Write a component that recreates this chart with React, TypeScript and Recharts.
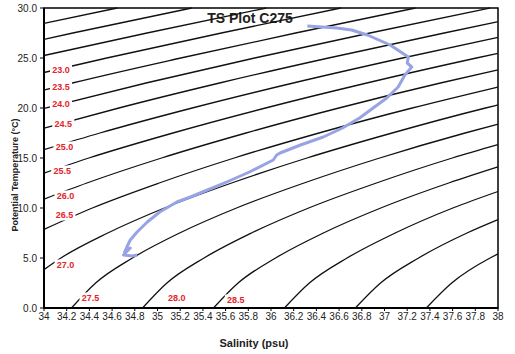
import React from 'react';
import { ScatterChart, Scatter, XAxis, YAxis, ReferenceArea, Label } from 'recharts';

// axis ticks
const xTicks = [34, 34.2, 34.4, 34.6, 34.8, 35, 35.2, 35.4, 35.6, 35.8, 36, 36.2, 36.4, 36.6, 36.8, 37, 37.2, 37.4, 37.6, 37.8, 38];
const yTicks = [0, 5, 10, 15, 20, 25, 30];

// isopycnals (sigma-theta) as [salinity, temperature] pairs
const sig215 = [[34, 28.46], [34.645, 30]];
const sig220 = [[34, 26.87], [34.254, 27.5], [35.302, 30]];
const sig225 = [[34, 25.25], [34.908, 27.5], [35.959, 30]];
const sig230 = [[34, 23.55], [34.553, 25], [35.563, 27.5], [36.616, 30]];
const sig235 = [[34, 21.79], [34.25, 22.5], [35.205, 25], [36.217, 27.5], [37.273, 30]];
const sig240 = [[34, 19.96], [34.899, 22.5], [35.856, 25], [36.872, 27.5], [37.93, 30]];
const sig245 = [[34, 17.97], [34.66, 20], [35.547, 22.5], [36.507, 25], [37.526, 27.5], [38, 28.62]];
const sig250 = [[34, 15.83], [34.493, 17.5], [35.306, 20], [36.196, 22.5], [37.159, 25], [38, 27.06]];
const sig255 = [[34, 13.49], [34.395, 15], [35.136, 17.5], [35.952, 20], [36.844, 22.5], [37.81, 25], [38, 25.47]];
const sig260 = [[34, 10.89], [34.378, 12.5], [35.036, 15], [35.78, 17.5], [36.598, 20], [37.493, 22.5], [38, 23.81]];
const sig265 = [[34, 7.86], [34.426, 10], [35.015, 12.5], [35.676, 15], [36.423, 17.5], [37.244, 20], [38, 22.1]];
const sig270 = [[34, 3.84], [34.149, 5], [34.562, 7.5], [35.061, 10], [35.653, 12.5], [36.317, 15], [37.067, 17.5], [37.89, 20], [38, 20.31]];
const sig275 = [[34.242, 0], [34.455, 2.5], [34.779, 5], [35.195, 7.5], [35.696, 10], [36.291, 12.5], [36.958, 15], [37.71, 17.5], [38, 18.38]];
const sig280 = [[34.868, 0], [35.083, 2.5], [35.41, 5], [35.828, 7.5], [36.332, 10], [36.929, 12.5], [37.598, 15], [38, 16.33]];
const sig285 = [[35.493, 0], [35.71, 2.5], [36.04, 5], [36.461, 7.5], [36.967, 10], [37.566, 12.5], [38, 14.11]];
const sig290 = [[36.118, 0], [36.338, 2.5], [36.67, 5], [37.094, 7.5], [37.602, 10], [38, 11.65]];
const sig295 = [[36.743, 0], [36.965, 2.5], [37.3, 5], [37.727, 7.5], [38, 8.84]];
const sig300 = [[37.368, 0], [37.592, 2.5], [37.93, 5], [38, 5.41]];

const isopycnals = [sig215, sig220, sig225, sig230, sig235, sig240, sig245, sig250, sig255,
  sig260, sig265, sig270, sig275, sig280, sig285, sig290, sig295, sig300];

// contour labels (value, salinity, temperature)
const labelText = ['23.0', '23.5', '24.0', '24.5', '25.0', '25.5', '26.0', '26.5', '27.0', '27.5', '28.0', '28.5'];
const labelS = [34.15, 34.15, 34.15, 34.17, 34.18, 34.16, 34.19, 34.18, 34.19, 34.41, 35.17, 35.69];
const labelT = [23.8, 22.1, 20.4, 18.4, 16.1, 13.7, 11.2, 9.3, 4.3, 1.0, 1.0, 0.8];

// station C275 profile, surface to bottom
const profile = [
  [36.32, 28.2], [36.58, 28.0], [36.71, 27.8], [36.85, 27.3], [37.05, 26.3], [37.21, 25.1],
  [37.2, 24.5], [37.24, 24.1], [37.18, 23.3], [37.12, 22.1], [37.02, 21.0], [36.9, 20.0],
  [36.78, 19.0], [36.63, 18.0], [36.46, 17.1], [36.26, 16.3], [36.08, 15.5], [36.05, 15.3],
  [36.02, 14.8], [35.81, 13.6], [35.61, 12.6], [35.44, 11.8], [35.29, 11.1], [35.17, 10.6],
  [35.02, 9.6], [34.91, 8.6], [34.82, 7.6], [34.76, 6.8], [34.73, 6.1], [34.71, 5.6],
  [34.76, 6.0], [34.7, 5.3], [34.78, 5.2], [34.82, 5.3]
];

const toPts = (arr: number[][]) => arr.map(([s, t]) => ({ s, t }));
const labelData = labelText.map((label, i) => ({ label, s: labelS[i], t: labelT[i] }));

const NoDot = () => <g />;

const IsoLabel = (props: any) => {
  const { cx, cy, payload } = props;
  return (
    <g>
      <rect x={cx - 11} y={cy - 5.5} width={22} height={11} fill="#fff" />
      <text x={cx} y={cy} textAnchor="middle" dominantBaseline="central" fontSize={9}
        fontWeight="bold" fill="#e3242b">{payload.label}</text>
    </g>
  );
};

const XTitle = (props: any) => {
  const { viewBox } = props;
  return (
    <text x={viewBox.x + viewBox.width / 2 - 17} y={343} textAnchor="middle" dominantBaseline="central"
      fontSize={11} fontWeight="bold" fill="#222">Salinity (psu)</text>
  );
};

const YTitle = (props: any) => {
  const { viewBox } = props;
  const x = viewBox.x + 15;
  const y = viewBox.y + viewBox.height / 2 + 17;
  return (
    <text x={x} y={y} transform={`rotate(-90 ${x} ${y})`} textAnchor="middle" dominantBaseline="central"
      fontSize={9} fontWeight="bold" fill="#222">Potential Temperature (°C)</text>
  );
};

const PlotTitle = (props: any) => {
  const { viewBox } = props;
  return (
    <text x={viewBox.x + viewBox.width / 2 - 21} y={viewBox.y + 10} textAnchor="middle"
      dominantBaseline="central" fontSize={14} fontWeight="bold" fill="#222">TS Plot C275</text>
  );
};

export default function App() {
  return (
    <div style={{ position: 'absolute', left: 0, top: 0, fontFamily: '"Liberation Sans", Arial, sans-serif' }}>
      <ScatterChart width={515} height={354} margin={{ top: 8, right: 17, bottom: 0, left: 0 }}>
        <XAxis type="number" dataKey="s" domain={[34, 38]} ticks={xTicks} interval={0}
          tickFormatter={(v: number) => String(Math.round(v * 10) / 10)}
          height={46} tickSize={3} tickMargin={2}
          axisLine={{ stroke: '#000', strokeWidth: 2 }} tickLine={{ stroke: '#000' }}
          tick={{ fontSize: 10, fill: '#222' }}>
          <Label content={XTitle} />
        </XAxis>
        <YAxis type="number" dataKey="t" domain={[0, 30]} ticks={yTicks} interval={0}
          tickFormatter={(v: number) => v.toFixed(1)}
          width={44} tickSize={4} tickMargin={3}
          axisLine={{ stroke: '#000', strokeWidth: 2 }} tickLine={{ stroke: '#000' }}
          tick={{ fontSize: 10, fill: '#222' }}>
          <Label content={YTitle} />
        </YAxis>
        {isopycnals.map((c, i) => (
          <Scatter key={i} data={toPts(c)} line={{ stroke: '#111', strokeWidth: 1.3 }}
            lineJointType="monotoneX" shape={NoDot} isAnimationActive={false} />
        ))}
        <Scatter data={labelData} shape={IsoLabel} isAnimationActive={false} />
        <Scatter data={toPts(profile)} line={{ stroke: '#98a3e3', strokeWidth: 3, strokeLinejoin: 'round' }}
          lineJointType="linear" shape={NoDot} isAnimationActive={false} />
        <ReferenceArea x1={34} x2={38} y1={0} y2={30} fill="none" stroke="#000" strokeWidth={1.5}>
          <Label content={PlotTitle} />
        </ReferenceArea>
      </ScatterChart>
    </div>
  );
}
